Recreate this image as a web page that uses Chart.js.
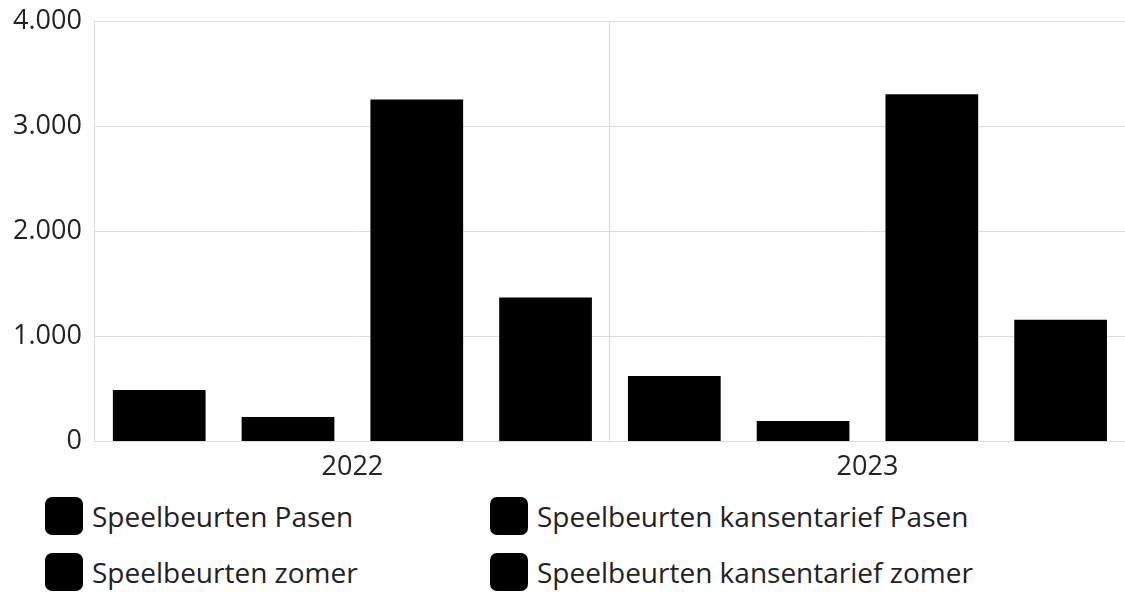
<!DOCTYPE html>
<html>
<head>
<meta charset="utf-8">
<script src="https://cdn.jsdelivr.net/npm/chart.js@4.4.0/dist/chart.umd.min.js"></script>
<style>
  body { margin: 0; background: #fff; font-family: "Open Sans", sans-serif; }
  #wrap { position: relative; width: 1125px; height: 494px; }
  #legend { display: grid; grid-template-columns: 445px 600px; row-gap: 18px; margin-left: 45px; margin-top: 3px; }
  .item { display: flex; align-items: center; font-size: 28px; color: #222; white-space: nowrap; }
  .box { width: 38px; height: 38px; border-radius: 7px; background: #000; margin-right: 9px; flex: none; }
</style>
</head>
<body>
<div id="wrap"><canvas id="chart"></canvas></div>
<div id="legend"></div>
<script>
const years = ["2022", "2023"];
const seriesLabels = [
  "Speelbeurten Pasen",
  "Speelbeurten kansentarief Pasen",
  "Speelbeurten zomer",
  "Speelbeurten kansentarief zomer",
];
const pasen = [490, 625];
const kansPasen = [235, 195];
const zomer = [3255, 3305];
const kansZomer = [1370, 1160];
const seriesValues = [pasen, kansPasen, zomer, kansZomer];

const gridColor = "#d9dde3";

const chart = new Chart(document.getElementById("chart"), {
  type: "bar",
  data: {
    labels: years,
    datasets: seriesLabels.map((label, i) => ({
      label: label,
      data: seriesValues[i],
      backgroundColor: "#000",
      categoryPercentage: 1.0,
      barPercentage: 0.72,
    })),
  },
  options: {
    responsive: true,
    maintainAspectRatio: false,
    animation: false,
    locale: "nl-NL",
    layout: { padding: { top: 0, right: 0 } },
    plugins: {
      legend: { display: false },
      tooltip: { enabled: false },
    },
    scales: {
      x: {
        grid: { color: gridColor, drawTicks: false, offset: true },
        border: { color: gridColor },
        ticks: { color: "#222", font: { family: "Open Sans", size: 27 }, padding: 10 },
      },
      y: {
        min: 0,
        max: 4000,
        grid: { color: gridColor, drawTicks: false },
        border: { color: gridColor },
        ticks: { stepSize: 1000, color: "#222", font: { family: "Open Sans", size: 27, lineHeight: 0.6 }, padding: 13 },
      },
    },
  },
});

// legend in two columns, like the original
const legend = document.getElementById("legend");
chart.data.datasets.forEach((ds) => {
  const item = document.createElement("div");
  item.className = "item";
  item.innerHTML = '<span class="box"></span><span>' + ds.label + "</span>";
  legend.appendChild(item);
});
</script>
</body>
</html>
